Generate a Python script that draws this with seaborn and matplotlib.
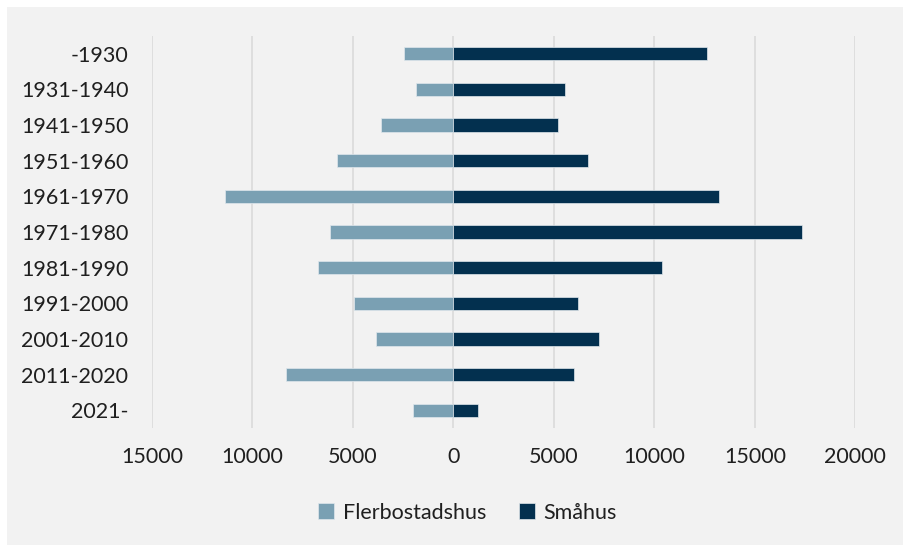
import matplotlib
matplotlib.use("Agg")
import matplotlib.pyplot as plt
from matplotlib.patches import Rectangle
import seaborn as sns
import pandas as pd

# Building stock by construction period: apartment blocks (left) vs small houses (right)
periods = ["-1930", "1931-1940", "1941-1950", "1951-1960", "1961-1970", "1971-1980",
           "1981-1990", "1991-2000", "2001-2010", "2011-2020", "2021-"]
flerbostadshus = [2450, 1850, 3600, 5800, 11350, 6150, 6750, 4950, 3850, 8350, 2000]
smahus = [12600, 5550, 5200, 6700, 13200, 17350, 10400, 6200, 7250, 6000, 1200]
series_names = ["Flerbostadshus", "Småhus"]
colors = ["#7aa0b3", "#03304f"]
x_ticks = [-15000, -10000, -5000, 0, 5000, 10000, 15000, 20000]

df = pd.DataFrame({
    "period": periods * 2,
    "value": [-v for v in flerbostadshus] + smahus,
    "type": [series_names[0]] * len(periods) + [series_names[1]] * len(periods),
})

sns.set_theme(style="white")
plt.rcParams["font.family"] = ["Lato", "DejaVu Sans"]

fig = plt.figure(figsize=(9.04, 5.45), dpi=100)
fig.patch.set_facecolor("white")
fig.patches.append(Rectangle((7 / 904, 0), 1 - 7 / 904, 1 - 7 / 545,
                             transform=fig.transFigure, facecolor="#f2f2f2",
                             edgecolor="none", zorder=-10))

ax = fig.add_axes([152 / 904, 1 - 428 / 545, (855.3 - 152) / 904, (428 - 36) / 545])
ax.set_facecolor("none")

sns.barplot(data=df, y="period", x="value", hue="type", order=periods,
            hue_order=series_names, palette=colors, saturation=1, dodge=False,
            width=0.37, orient="h", edgecolor="#dfe7ec", linewidth=0.5, ax=ax,
            zorder=3)

ax.set_xlim(-15000, 20000)
ax.set_ylim(len(periods) - 0.5, -0.5)
ax.set_xticks(x_ticks)
ax.set_xticklabels([str(abs(t)) for t in x_ticks])
ax.xaxis.grid(True, color="#d9d9d9", linewidth=1.1, zorder=0)
ax.yaxis.grid(False)
ax.set_axisbelow(True)
for s in ax.spines.values():
    s.set_visible(False)
ax.set_xlabel("")
ax.set_ylabel("")
ax.tick_params(axis="y", length=0, pad=17, labelsize=15.5, labelcolor="#1f1f1f")
ax.tick_params(axis="x", length=0, pad=14, labelsize=15.5, labelcolor="#1f1f1f")

handles, labels = ax.get_legend_handles_labels()
ax.get_legend().remove()
fig.legend(handles, labels, loc="center", bbox_to_anchor=(0.517, 0.059), ncol=2,
           frameon=False, fontsize=15.5, handlelength=0.75, handleheight=0.75,
           handletextpad=0.4, columnspacing=1.5, labelcolor="#1f1f1f")

fig.savefig("out.png", dpi=100)
